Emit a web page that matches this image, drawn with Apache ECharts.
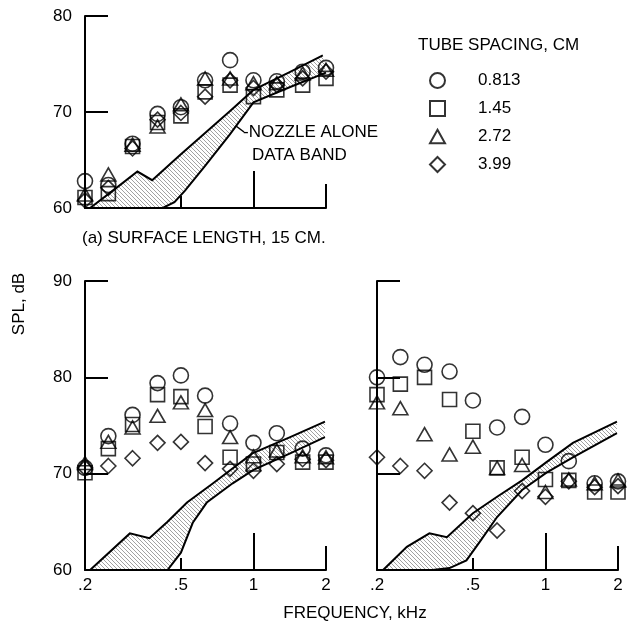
<!DOCTYPE html>
<html><head><meta charset="utf-8">
<script src="https://cdn.jsdelivr.net/npm/echarts@6/dist/echarts.min.js"></script>
<style>html,body{margin:0;padding:0;background:#fff}#c{width:637px;height:626px}</style>
</head><body><div id="c"></div>
<script>
// ---------- data ----------
const freqs = [0.2, 0.25, 0.315, 0.4, 0.5, 0.63, 0.8, 1.0, 1.25, 1.6, 2.0];
const xTickLabels = [0.2, 0.5, 1, 2];
const legendNames = ['0.813', '1.45', '2.72', '3.99'];

// panel (a) surface length 15 cm
const aCircle   = [62.8, 62.4, 66.7, 69.8, 70.5, 73.3, 75.4, 73.3, 73.2, 74.2, 74.6];
const aSquare   = [61.1, 61.5, 66.4, 68.9, 69.6, 72.1, 72.8, 71.6, 72.3, 72.8, 73.5];
const aTriangle = [61.4, 63.5, 66.6, 68.5, 70.8, 73.5, 73.5, 73.0, 73.0, 74.0, 74.4];
const aDiamond  = [60.8, 62.1, 66.2, 69.2, 69.9, 71.6, 73.3, 72.5, 72.8, 73.5, 74.2];
const aBandUpper = [[0.21,60],[0.27,62.1],[0.33,63.8],[0.38,62.9],[0.5,65.6],[0.63,67.8],[0.8,70.1],[1.0,72.3],[1.4,74.1],[1.94,75.9]];
const aBandLower = [[0.21,60],[0.42,60],[0.47,60.6],[0.52,61.8],[0.63,64.4],[0.8,67.7],[1.0,71.0],[1.42,72.6],[2.0,74.1]];

// lower-left panel
const bCircle   = [70.6, 73.9, 76.1, 79.4, 80.2, 78.1, 75.2, 73.2, 74.2, 72.6, 71.9];
const bSquare   = [70.1, 72.6, 75.1, 78.2, 78.0, 74.9, 71.7, 71.0, 72.2, 71.2, 71.2];
const bTriangle = [71.1, 73.3, 74.8, 76.0, 77.4, 76.6, 73.8, 71.8, 72.4, 71.8, 71.7];
const bDiamond  = [70.6, 70.8, 71.6, 73.2, 73.3, 71.1, 70.5, 70.3, 71.0, 71.5, 71.4];
const bBandUpper = [[0.21,60],[0.307,63.8],[0.37,63.3],[0.44,65.0],[0.53,67.0],[0.68,69.0],[0.99,72.1],[1.42,73.8],[1.98,75.4]];
const bBandLower = [[0.21,60],[0.44,60],[0.5,61.8],[0.56,64.9],[0.64,67.0],[0.82,69.0],[1.0,70.4],[1.42,72.1],[1.98,73.8]];

// lower-right panel
const cCircle   = [80.0, 82.1, 81.3, 80.6, 77.6, 74.8, 75.9, 73.0, 71.3, 69.0, 69.2];
const cSquare   = [78.2, 79.3, 80.0, 77.7, 74.4, 70.6, 71.7, 69.4, 69.3, 68.1, 68.1];
const cTriangle = [77.4, 76.8, 74.1, 72.0, 72.8, 70.6, 70.9, 68.1, 69.4, 69.0, 69.3];
const cDiamond  = [71.7, 70.8, 70.3, 67.0, 65.9, 64.1, 68.2, 67.6, 69.2, 68.6, 68.7];
const cBandUpper = [[0.212,60],[0.266,62.4],[0.33,63.8],[0.39,63.4],[0.5,65.9],[0.63,67.6],[0.8,69.3],[1.01,71.2],[1.3,73.2],[1.98,75.4]];
const cBandLower = [[0.212,60],[0.34,60],[0.4,60.2],[0.47,61.0],[0.54,63.1],[0.63,65.5],[0.8,68.3],[1.01,70.1],[1.3,71.7],[1.98,74.2]];

// ---------- style ----------
const FONT = "'Liberation Sans', Arial, sans-serif";
const FS = 17;
const INK = '#000';

const hc = document.createElement('canvas');
hc.width = 4; hc.height = 4;
const hg = hc.getContext('2d');
hg.strokeStyle = '#8a8a8a'; hg.lineWidth = 0.8;
hg.beginPath(); hg.moveTo(-1,-1); hg.lineTo(5,5); hg.stroke();
const hatch = { image: hc, repeat: 'repeat' };

const symbols = [
  { symbol: 'circle', size: 15 },
  { symbol: 'rect', size: 14 },
  { symbol: 'path://M0,-1L1,0.8L-1,0.8Z', size: [15, 13] },
  { symbol: 'path://M0,-1L1,0L0,1L-1,0Z', size: [15, 15] }
];

const panels = [
  { vals: [aCircle, aSquare, aTriangle, aDiamond], up: aBandUpper, lo: aBandLower, max: 80, xLabels: false, yLabels: true,
    grid: { left: 85, top: 16, width: 241, height: 192 } },
  { vals: [bCircle, bSquare, bTriangle, bDiamond], up: bBandUpper, lo: bBandLower, max: 90, xLabels: true, yLabels: true,
    grid: { left: 85, top: 281, width: 241, height: 289 } },
  { vals: [cCircle, cSquare, cTriangle, cDiamond], up: cBandUpper, lo: cBandLower, max: 90, xLabels: true, yLabels: false,
    grid: { left: 377, top: 281, width: 241, height: 289 } }
];

const lineStyle = { color: INK, width: 2 };
const fmtX = v => { const r = Math.round(v * 10) / 10; return r < 1 ? '.' + Math.round(r * 10) : String(Math.round(r)); };

const grids = [], xAxes = [], yAxes = [], series = [];
panels.forEach((p, gi) => {
  grids.push(p.grid);
  const base = { gridIndex: gi, type: 'log', logBase: 10, min: 0.2, max: 2, position: 'bottom', splitLine: { show: false } };
  xAxes.push(Object.assign({}, base, {
    axisLine: { show: true, onZero: false, lineStyle },
    axisTick: { show: true, inside: true, length: 12, customValues: [0.5], lineStyle },
    axisLabel: { show: p.xLabels, customValues: xTickLabels, formatter: fmtX, margin: 7, color: INK, fontSize: FS, fontFamily: FONT }
  }));
  xAxes.push(Object.assign({}, base, {
    axisLine: { show: false },
    axisTick: { show: true, inside: true, length: 37, customValues: [1], lineStyle },
    axisLabel: { show: false }
  }));
  xAxes.push(Object.assign({}, base, {
    axisLine: { show: false },
    axisTick: { show: true, inside: true, length: 24, customValues: [2], lineStyle },
    axisLabel: { show: false }
  }));
  yAxes.push({
    gridIndex: gi, type: 'value', min: 60, max: p.max, interval: 10,
    axisLine: { show: true, lineStyle },
    axisTick: { show: true, inside: true, length: 23, lineStyle },
    axisLabel: { show: p.yLabels, margin: 13, color: INK, fontSize: FS, fontFamily: FONT },
    splitLine: { show: false }
  });
  const up = p.up, lo = p.lo;
  series.push({
    type: 'custom', xAxisIndex: gi * 3, yAxisIndex: gi, silent: true, z: 1,
    data: [[0.5, 65]],
    renderItem: function (params, api) {
      const u = up.map(q => api.coord(q));
      const l = lo.map(q => api.coord(q));
      return { type: 'group', children: [
        { type: 'polygon', shape: { points: u.concat(l.slice().reverse()) }, style: { fill: hatch, stroke: null } },
        { type: 'polyline', shape: { points: u }, style: { stroke: INK, lineWidth: 2, fill: null } },
        { type: 'polyline', shape: { points: l }, style: { stroke: INK, lineWidth: 2, fill: null } }
      ] };
    }
  });
  p.vals.forEach((vals, k) => {
    series.push({
      type: 'scatter', name: legendNames[k], xAxisIndex: gi * 3, yAxisIndex: gi, z: 3,
      symbol: symbols[k].symbol, symbolSize: symbols[k].size,
      itemStyle: { color: 'rgba(0,0,0,0)', borderColor: INK, borderWidth: 1.6 },
      data: freqs.map((f, i) => [f, vals[i]])
    });
  });
});

const txt = (text, x, y, align, extra) => Object.assign({
  type: 'text', x, y, silent: true,
  style: { text, fill: INK, font: FS + 'px ' + FONT, textAlign: align, textVerticalAlign: 'middle' }
}, extra || {});

const option = {
  animation: false,
  backgroundColor: '#fff',
  grid: grids, xAxis: xAxes, yAxis: yAxes, series,
  legend: {
    data: legendNames, orient: 'vertical', left: 424, top: 67,
    itemWidth: 15, itemHeight: 15, itemGap: 11,
    textStyle: { color: INK, fontSize: FS, fontFamily: FONT, padding: [0, 0, 0, 28] },
    selectedMode: false
  },
  graphic: [
    txt('TUBE SPACING, CM', 418, 45, 'left'),
    txt('-NOZZLE ALONE', 243, 132, 'left'),
    txt('DATA BAND', 252, 155, 'left'),
    { type: 'polyline', silent: true, shape: { points: [[244, 132], [236, 126]] }, style: { stroke: INK, lineWidth: 1.5, fill: null } },
    txt('(a) SURFACE LENGTH, 15 CM.', 82, 238, 'left'),
    txt('SPL, dB', 19, 304, 'center', { rotation: Math.PI / 2 }),
    txt('FREQUENCY, kHz', 355, 613, 'center')
  ]
};

const chart = echarts.init(document.getElementById('c'), null, { renderer: 'canvas' });
chart.setOption(option);
</script></body></html>
